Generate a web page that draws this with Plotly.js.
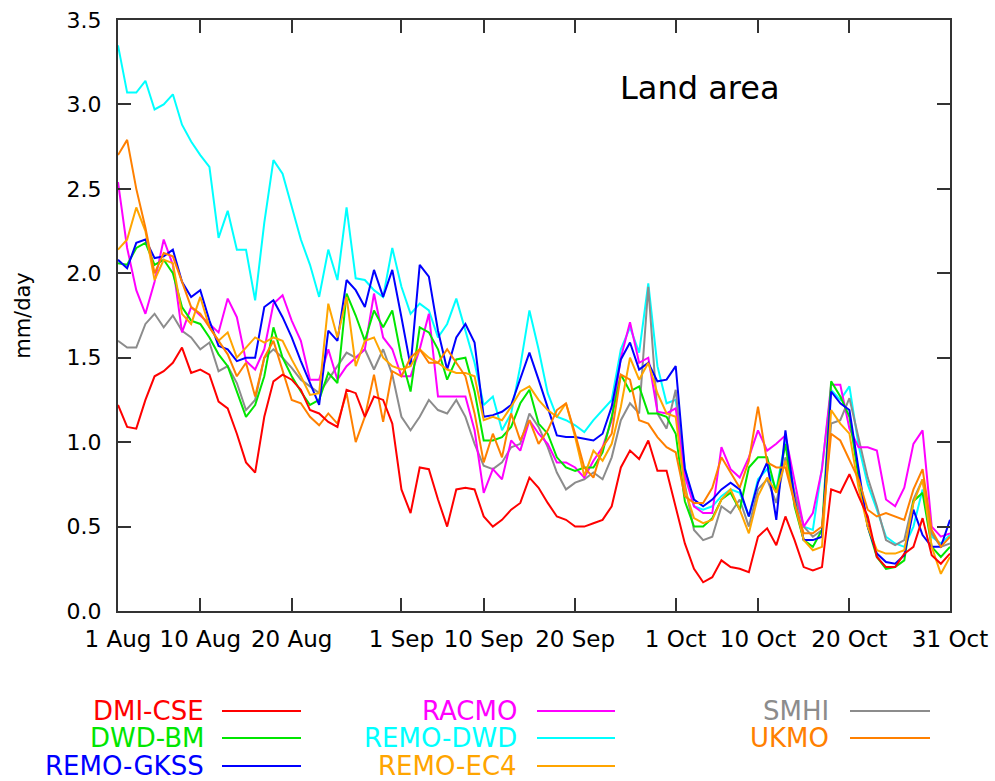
<!DOCTYPE html>
<html>
<head>
<meta charset="utf-8">
<script src="https://cdn.plot.ly/plotly-3.0.1.min.js"></script>
<style>html,body{margin:0;padding:0;background:#fff;}#chart{width:995px;height:781px;}</style>
</head>
<body>
<div id="chart"></div>
<script>
// Day index 0 = 1 Aug ... 91 = 31 Oct
const tickDays = [0, 9, 19, 31, 40, 50, 61, 70, 80, 91];
const tickLabels = ["1 Aug", "10 Aug", "20 Aug", "1 Sep", "10 Sep", "20 Sep", "1 Oct", "10 Oct", "20 Oct", "31 Oct"];

const dmiCse = [1.22,1.09,1.08,1.25,1.39,1.42,1.47,1.56,1.41,1.43,1.40,1.24,1.20,1.05,0.88,0.82,1.15,1.36,1.40,1.37,1.31,1.19,1.17,1.12,1.09,1.31,1.29,1.15,1.27,1.25,1.11,0.72,0.58,0.85,0.84,0.66,0.50,0.72,0.73,0.72,0.56,0.50,0.54,0.60,0.64,0.79,0.73,0.64,0.56,0.54,0.50,0.50,0.52,0.54,0.62,0.85,0.95,0.90,1.01,0.83,0.83,0.62,0.40,0.25,0.17,0.20,0.30,0.26,0.25,0.23,0.44,0.49,0.39,0.56,0.42,0.26,0.24,0.26,0.72,0.70,0.81,0.68,0.56,0.32,0.26,0.26,0.34,0.38,0.55,0.33,0.28,0.34];
const dwdBm = [2.06,2.05,2.15,2.18,2.05,2.08,2.00,1.80,1.72,1.70,1.62,1.52,1.45,1.30,1.15,1.22,1.39,1.68,1.50,1.39,1.30,1.22,1.25,1.41,1.35,1.88,1.75,1.60,1.78,1.68,1.78,1.50,1.30,1.68,1.65,1.55,1.37,1.49,1.50,1.30,1.01,1.01,1.03,1.09,1.23,1.31,1.11,1.05,0.91,0.85,0.83,0.85,0.85,0.94,1.15,1.40,1.30,1.33,1.17,1.17,1.15,1.05,0.65,0.50,0.50,0.55,0.66,0.70,0.60,0.85,0.91,0.91,0.70,0.99,0.62,0.42,0.38,0.48,1.36,1.27,1.15,0.79,0.50,0.32,0.25,0.26,0.30,0.65,0.70,0.38,0.32,0.38];
const remoGkss = [2.08,2.03,2.18,2.20,2.09,2.10,2.14,1.95,1.86,1.90,1.72,1.57,1.55,1.48,1.50,1.50,1.80,1.84,1.74,1.62,1.48,1.35,1.22,1.66,1.60,1.96,1.90,1.80,2.02,1.86,2.02,1.74,1.45,2.05,1.98,1.66,1.43,1.62,1.70,1.59,1.15,1.16,1.18,1.22,1.37,1.53,1.37,1.21,1.04,1.03,1.03,1.02,1.01,1.05,1.21,1.49,1.59,1.43,1.47,1.36,1.37,1.45,0.84,0.66,0.62,0.66,0.72,0.76,0.72,0.56,0.76,0.88,0.54,1.07,0.66,0.42,0.42,0.44,1.30,1.23,1.19,0.84,0.50,0.34,0.29,0.28,0.33,0.60,0.45,0.38,0.38,0.54];
const racmo = [2.54,2.15,1.90,1.76,1.95,2.20,2.05,1.65,1.80,1.75,1.70,1.65,1.85,1.74,1.48,1.43,1.55,1.82,1.87,1.72,1.60,1.37,1.37,1.55,1.37,1.45,1.50,1.55,1.88,1.62,1.55,1.39,1.39,1.55,1.76,1.27,1.27,1.27,1.27,1.07,0.70,0.84,0.78,1.01,0.95,1.13,1.05,0.99,0.88,0.88,0.85,0.79,0.89,0.97,1.13,1.50,1.71,1.47,1.50,1.18,1.17,1.20,0.80,0.62,0.58,0.58,0.97,0.84,0.79,0.91,1.07,0.95,0.99,1.04,0.76,0.50,0.58,0.84,1.34,1.34,1.08,0.97,0.97,0.95,0.66,0.62,0.73,0.99,1.07,0.50,0.44,0.46];
const remoDwd = [3.35,3.07,3.07,3.14,2.97,3.00,3.06,2.88,2.78,2.70,2.63,2.21,2.37,2.14,2.14,1.84,2.30,2.67,2.59,2.40,2.20,2.05,1.86,2.14,1.96,2.39,1.97,1.96,1.90,1.86,2.15,1.92,1.76,1.82,1.78,1.62,1.70,1.85,1.66,1.47,1.22,1.27,1.07,1.17,1.45,1.78,1.55,1.29,1.15,1.13,1.10,1.06,1.13,1.19,1.25,1.55,1.68,1.53,1.94,1.45,1.23,1.25,0.85,0.62,0.60,0.62,0.68,0.72,0.70,0.56,0.78,0.84,0.72,1.01,0.70,0.50,0.48,0.85,1.31,1.25,1.33,0.98,0.75,0.60,0.44,0.40,0.38,0.50,0.72,0.44,0.40,0.45];
const remoEc4 = [2.14,2.20,2.39,2.25,1.96,2.08,2.06,1.76,1.70,1.86,1.68,1.60,1.65,1.50,1.56,1.62,1.59,1.62,1.60,1.49,1.39,1.28,1.29,1.82,1.62,1.86,1.45,1.60,1.62,1.50,1.45,1.43,1.45,1.55,1.50,1.47,1.43,1.41,1.41,1.39,1.13,1.15,1.13,1.21,1.30,1.33,1.25,1.19,1.15,1.23,1.03,0.80,0.95,0.89,0.99,1.21,1.50,1.37,1.47,1.29,1.17,1.15,0.72,0.55,0.52,0.54,0.66,0.72,0.60,0.46,0.68,0.79,0.70,0.89,0.64,0.42,0.36,0.38,1.19,1.11,1.05,0.73,0.50,0.36,0.34,0.34,0.36,0.64,0.78,0.38,0.22,0.32];
const smhi = [1.60,1.56,1.56,1.70,1.76,1.68,1.75,1.66,1.62,1.55,1.59,1.42,1.45,1.35,1.19,1.25,1.50,1.55,1.50,1.44,1.37,1.33,1.29,1.37,1.45,1.53,1.50,1.55,1.43,1.55,1.40,1.15,1.07,1.15,1.25,1.19,1.17,1.25,1.15,0.99,0.86,0.84,0.88,0.97,0.99,1.17,1.09,0.97,0.82,0.72,0.76,0.78,0.82,0.78,0.91,1.13,1.23,1.17,1.92,1.17,1.08,1.31,0.75,0.48,0.42,0.44,0.62,0.58,0.66,0.50,0.72,0.78,0.64,0.91,0.70,0.50,0.44,0.48,1.11,1.13,1.26,1.03,0.79,0.62,0.42,0.39,0.42,0.66,0.78,0.46,0.38,0.40];
const ukmo = [2.70,2.79,2.50,2.27,2.00,2.12,2.10,1.95,1.80,1.76,1.68,1.60,1.52,1.39,1.47,1.27,1.50,1.60,1.43,1.25,1.23,1.15,1.10,1.17,1.11,1.29,1.00,1.15,1.40,1.12,1.42,1.39,1.50,1.55,1.47,1.47,1.55,1.47,1.39,1.17,0.88,1.05,0.91,1.17,1.01,1.13,0.99,1.07,1.19,1.23,1.05,0.85,0.79,0.97,1.05,1.40,1.37,1.13,1.11,1.03,0.97,0.94,0.68,0.64,0.64,0.73,0.91,0.82,0.73,0.89,1.21,0.88,0.85,0.85,0.64,0.46,0.46,0.50,1.05,1.01,0.89,0.78,0.60,0.56,0.58,0.56,0.54,0.72,0.84,0.48,0.38,0.44];

const seriesNames = ["DMI-CSE", "DWD-BM", "REMO-GKSS", "RACMO", "REMO-DWD", "REMO-EC4", "SMHI", "UKMO"];
const seriesValues = [dmiCse, dwdBm, remoGkss, racmo, remoDwd, remoEc4, smhi, ukmo];
const seriesColors = ["#ff0000", "#00e600", "#0000ff", "#ff00ff", "#00ffff", "#ffa500", "#8c8c8c", "#ff8000"];

const days = dmiCse.map((_, i) => i);
const FONT = "DejaVu Sans, Liberation Sans, Arial, sans-serif";

const order = [4, 6, 3, 1, 2, 5, 7, 0];
const traces = order.map(k => ({
  x: days,
  y: seriesValues[k],
  type: "scatter",
  mode: "lines",
  name: seriesNames[k],
  line: {color: seriesColors[k], width: 2},
  showlegend: false
}));

// custom legend: text then line sample, 3 columns
const L = 118, W = 832, T = 20, H = 591;
const px = x => (x - L) / W;
const py = y => (T + H - y) / H;
const legendCols = [
  {textRight: 206, lineX0: 222, lineX1: 301, items: [0, 1, 2]},
  {textRight: 519, lineX0: 537, lineX1: 615, items: [3, 4, 5]},
  {textRight: 831, lineX0: 850, lineX1: 930, items: [6, 7]}
];
const rowY = [711, 738, 766];
const annotations = [];
const shapes = [];
legendCols.forEach(col => {
  col.items.forEach((k, r) => {
    annotations.push({
      xref: "paper", yref: "paper", x: px(col.textRight), y: py(rowY[r]),
      xanchor: "right", yanchor: "middle", showarrow: false,
      text: seriesNames[k], font: {family: FONT, size: 26, color: seriesColors[k]}
    });
    shapes.push({
      type: "line", xref: "paper", yref: "paper",
      x0: px(col.lineX0), x1: px(col.lineX1), y0: py(rowY[r]), y1: py(rowY[r]),
      line: {color: seriesColors[k], width: 2}
    });
  });
});
annotations.push({
  xref: "paper", yref: "paper", x: px(700), y: py(88), xanchor: "center", yanchor: "middle",
  showarrow: false, text: "Land area",
  font: {family: FONT, size: 32, color: "#000"}
});

const layout = {
  width: 995, height: 781,
  margin: {l: 118, r: 45, t: 20, b: 170, pad: 0},
  paper_bgcolor: "#fff", plot_bgcolor: "#fff",
  font: {family: FONT, size: 22, color: "#000"},
  showlegend: false,
  xaxis: {
    range: [0, 91], tickmode: "array", tickvals: tickDays, ticktext: tickLabels,
    showgrid: false, zeroline: false, showline: true, linecolor: "#333", linewidth: 2,
    mirror: "ticks", ticks: "inside", ticklen: 13, tickwidth: 2, tickcolor: "#333",
    ticklabelstandoff: 6, tickangle: 0, automargin: false,
    tickfont: {family: FONT, size: 23, color: "#000"}
  },
  yaxis: {
    range: [0, 3.5], dtick: 0.5, tick0: 0, tickformat: ".1f",
    showgrid: false, zeroline: false, showline: true, linecolor: "#333", linewidth: 2,
    mirror: "ticks", ticks: "inside", ticklen: 13, tickwidth: 2, tickcolor: "#333",
    ticklabelstandoff: 10, automargin: false,
    tickfont: {family: FONT, size: 22, color: "#000"},
    title: {text: "mm/day", font: {family: FONT, size: 21, color: "#000"}, standoff: 30}
  },
  annotations: annotations,
  shapes: shapes
};

Plotly.newPlot("chart", traces, layout, {displayModeBar: false, staticPlot: true});
</script>
</body>
</html>
